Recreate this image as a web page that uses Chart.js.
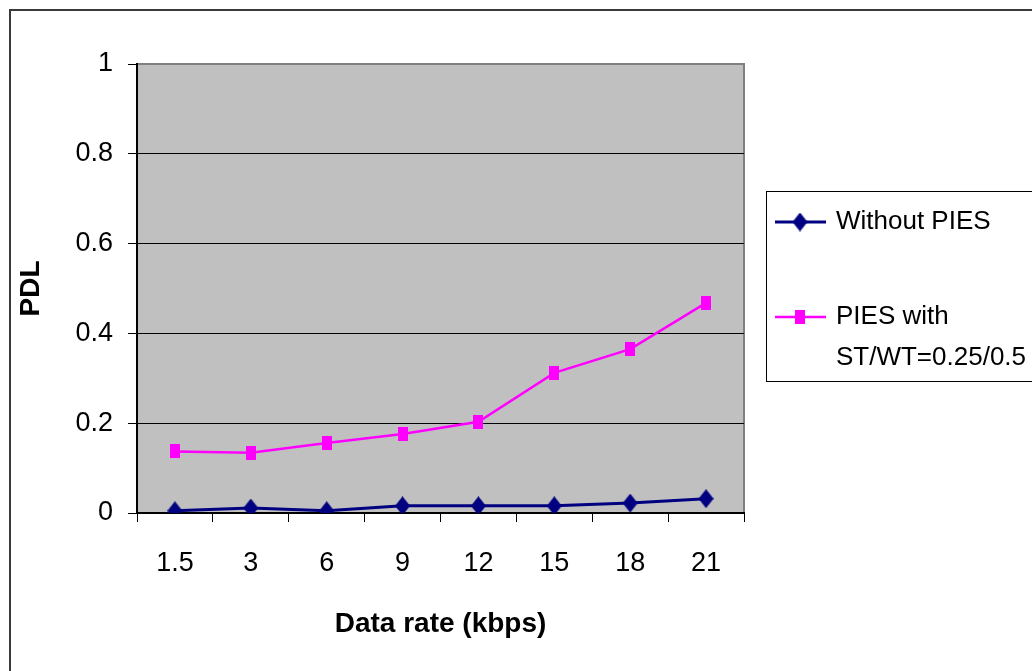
<!DOCTYPE html>
<html>
<head>
<meta charset="utf-8">
<script src="https://cdn.jsdelivr.net/npm/chart.js@4.4.1/dist/chart.umd.min.js"></script>
<style>
  html, body { margin: 0; padding: 0; background: #fff; overflow: hidden; }
  #wrap { width: 1032px; height: 671px; position: relative; }
</style>
</head>
<body>
<div id="wrap"><canvas id="chart"></canvas></div>
<script>
const categories = ['1.5', '3', '6', '9', '12', '15', '18', '21'];
const withoutPies = [0.005, 0.011, 0.005, 0.016, 0.016, 0.016, 0.022, 0.032];
const piesWith = [0.137, 0.134, 0.156, 0.176, 0.203, 0.312, 0.365, 0.468];
const yTicks = [0, 0.2, 0.4, 0.6, 0.8, 1];
const seriesLabels = ['Without PIES', ['PIES with', 'ST/WT=0.25/0.5']];

const FONT = "'Liberation Sans', Arial, sans-serif";
const NAVY = '#000080';
const MAGENTA = '#ff00ff';

// markers in the original are a little taller than wide
function marker(kind, w, h, color) {
    const c = document.createElement('canvas');
    c.width = w;
    c.height = h;
    const g = c.getContext('2d');
    g.fillStyle = color;
    g.beginPath();
    if (kind === 'diamond') {
        g.moveTo(w / 2, 0);
        g.lineTo(w, h / 2);
        g.lineTo(w / 2, h);
        g.lineTo(0, h / 2);
    } else {
        g.rect(0, 0, w, h);
    }
    g.closePath();
    g.fill();
    return c;
}
const diamond = marker('diamond', 15, 19, NAVY);
const square = marker('square', 10, 14, MAGENTA);

const frame = {
    id: 'frame',
    beforeDraw(chart) {
        const { ctx, chartArea: a } = chart;
        ctx.save();
        ctx.fillStyle = '#c0c0c0';
        ctx.fillRect(a.left, a.top, a.right - a.left, a.bottom - a.top);
        ctx.strokeStyle = '#808080';
        ctx.lineWidth = 2;
        ctx.beginPath();
        ctx.moveTo(a.left, a.top);
        ctx.lineTo(a.right, a.top);
        ctx.lineTo(a.right, a.bottom);
        ctx.stroke();
        ctx.strokeStyle = '#3a3a3a';
        ctx.strokeRect(10, 10, chart.width + 20, chart.height + 20);
        ctx.restore();
    },
};

// boxed legend on the right, like the spreadsheet original
const boxLegend = {
    id: 'boxLegend',
    afterDraw(chart) {
        const { ctx } = chart;
        const rows = [[222], [317, 358]];
        ctx.save();
        ctx.fillStyle = '#fff';
        ctx.fillRect(766.5, 191.5, 300, 190);
        ctx.strokeStyle = '#000';
        ctx.lineWidth = 1;
        ctx.strokeRect(766.5, 191.5, 300, 190);
        chart.data.datasets.forEach((ds, i) => {
            const y = rows[i][0];
            ctx.strokeStyle = ds.borderColor;
            ctx.lineWidth = ds.borderWidth;
            ctx.beginPath();
            ctx.moveTo(775, y);
            ctx.lineTo(826, y);
            ctx.stroke();
            const img = ds.pointStyle;
            ctx.drawImage(img, 800 - img.width / 2, y - img.height / 2);
            ctx.fillStyle = '#000';
            ctx.font = '26px ' + FONT;
            ctx.textBaseline = 'middle';
            ctx.textAlign = 'left';
            const lines = [].concat(seriesLabels[i]);
            lines.forEach((t, k) => ctx.fillText(t, 836, rows[i][k]));
        });
        ctx.restore();
    },
};

new Chart(document.getElementById('chart'), {
    type: 'line',
    data: {
        labels: categories,
        datasets: [
            {
                label: 'Without PIES',
                data: withoutPies,
                borderColor: NAVY,
                backgroundColor: NAVY,
                borderWidth: 3,
                pointStyle: diamond,
                tension: 0,
            },
            {
                label: 'PIES with ST/WT=0.25/0.5',
                data: piesWith,
                borderColor: MAGENTA,
                backgroundColor: MAGENTA,
                borderWidth: 2.5,
                pointStyle: square,
                tension: 0,
            },
        ],
    },
    options: {
        responsive: true,
        maintainAspectRatio: false,
        animation: false,
        layout: { padding: { left: 0, top: 64, right: 288, bottom: 0 } },
        plugins: {
            legend: { display: false },
            tooltip: { enabled: false },
        },
        scales: {
            x: {
                offset: true,
                afterFit(scale) { scale.height = 158; },
                border: { color: '#000', width: 2 },
                grid: {
                    offset: true,
                    drawOnChartArea: false,
                    drawTicks: true,
                    tickLength: 9,
                    tickColor: '#000',
                    tickWidth: 1,
                },
                ticks: {
                    color: '#000',
                    padding: 25,
                    maxRotation: 0,
                    font: { family: FONT, size: 27 },
                },
                title: {
                    display: true,
                    text: 'Data rate (kbps)',
                    color: '#000',
                    padding: { top: 0, bottom: 30 },
                    font: { family: FONT, size: 28, weight: 'bold' },
                },
            },
            y: {
                min: 0,
                max: 1,
                afterFit(scale) { scale.width = 137; },
                afterBuildTicks(scale) { scale.ticks = yTicks.map((v) => ({ value: v })); },
                border: { color: '#000', width: 2 },
                grid: {
                    color: (c) => (c.tick && c.tick.value === 1 ? 'rgba(0,0,0,0)' : '#000'),
                    lineWidth: 1,
                    drawTicks: true,
                    tickLength: 9,
                    tickColor: '#000',
                },
                ticks: {
                    color: '#000',
                    padding: 15,
                    font: { family: FONT, size: 27 },
                    callback: (v) => String(Math.round(v * 10) / 10),
                },
                title: {
                    display: true,
                    text: 'PDL',
                    color: '#000',
                    padding: { top: 14, bottom: 0 },
                    font: { family: FONT, size: 28, weight: 'bold' },
                },
            },
        },
    },
    plugins: [frame, boxLegend],
});
</script>
</body>
</html>
